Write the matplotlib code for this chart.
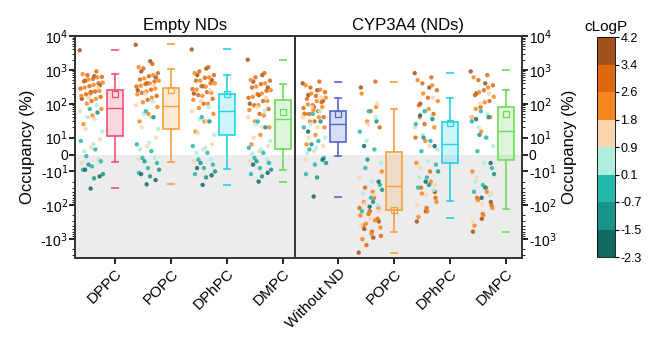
import numpy as np
import matplotlib
matplotlib.use('Agg')
import matplotlib.pyplot as plt
from matplotlib.colors import ListedColormap, BoundaryNorm, to_rgba
from matplotlib.ticker import FixedLocator, SymmetricalLogLocator, NullFormatter
from matplotlib.transforms import ScaledTranslation

plt.rcParams['font.family'] = ['Liberation Sans', 'DejaVu Sans']

# cLogP of each compound (same compound order in every group)
clogp = [4.0, 3.9, 3.7, 3.6, 3.5, 3.45,
         3.3, 3.2, 3.2, 3.1, 3.0, 3.0, 2.9, 2.8, 2.8, 2.7, 2.7, 2.65,
         2.5, 2.5, 2.4, 2.4, 2.3, 2.3, 2.2, 2.2, 2.1, 2.0, 2.0, 1.9, 1.9, 1.85,
         1.7, 1.6, 1.5, 1.4, 1.3, 1.2, 1.1, 1.0,
         0.8, 0.7, 0.5, 0.4, 0.3, 0.2,
         0.0, -0.1, -0.2, -0.3, -0.4, -0.5, -0.6,
         -0.9, -1.1, -1.2, -1.4,
         -1.7, -1.9, -2.2]

# occupancy (%) per compound, empty NDs
dppc_empty = [3800, 650, 480, 350, 220, 140,
              900, 700, 620, 540, 460, 400, 330, 280, 230, 190, 160, 120,
              750, 600, 520, 420, 360, 300, 240, 200, 170, 140, 100, 70, 45, 25,
              300, 150, 60, 35, 18, 9, 4, -5,
              90, 40, 15, 6, 2, -3,
              70, 8, 3, -1, -4, -7, -9,
              55, -6, -12, -16,
              -9, -14, -32]
popc_empty = [5500, 1800, 900, 600, 400, 250,
              1500, 1100, 800, 650, 520, 450, 380, 320, 260, 210, 170, 130,
              1200, 700, 560, 480, 400, 340, 280, 230, 190, 150, 110, 80, 50, 30,
              350, 200, 90, 40, 20, 10, 5, -3,
              120, 50, 18, 7, 3, -2,
              60, 6, 2, -2, -5, -8, -11,
              40, -4, -9, -14,
              -12, -18, -24]
dphpc_empty = [4000, 1100, 700, 500, 330, 200,
               1200, 900, 700, 580, 480, 400, 330, 270, 220, 180, 140, 100,
               800, 600, 480, 400, 320, 260, 210, 170, 130, 100, 75, 50, 30, 15,
               250, 120, 60, 30, 14, 6, 3, -4,
               80, 35, 12, 4, 1, -3,
               40, 5, 1, -3, -6, -8, -12,
               30, -5, -10, -15,
               -8, -13, -25]
dmpc_empty = [2000, 700, 450, 300, 180, 100,
              800, 600, 480, 380, 300, 240, 190, 150, 120, 90, 70, 50,
              500, 400, 320, 250, 200, 160, 120, 90, 65, 45, 30, 20, 12, 6,
              150, 80, 40, 20, 10, 5, 2, -4,
              60, 25, 8, 3, 0.5, -3,
              30, 4, 1, -2, -5, -8, -12,
              20, -4, -9, -14,
              -6, -11, -20]

# occupancy (%) per compound, CYP3A4
without_nd = [400, 250, 180, 120, 80, 50,
              450, 300, 220, 170, 140, 110, 90, 75, 60, 50, 40, 30,
              350, 260, 200, 150, 120, 95, 80, 65, 50, 40, 30, 20, 12, 6,
              150, 80, 40, 20, 10, 5, 2, -3,
              60, 25, 10, 4, 1, -4,
              50, 20, 8, 3, -2, -6, -12,
              30, 6, -5, -15,
              15, -3, -55]
popc_cyp = [-2500, -900, -500, -300, -150, 300,
            450, -1500, -800, -600, -400, -250, -180, -120, -60, -30, 20, 60,
            200, 80, 30, -10, -40, -80, -120, -160, -200, -280, -350, -450, -700, -1000,
            100, 25, -15, -50, -90, -150, -250, -400,
            40, 8, -5, -20, -45, -100,
            60, 15, 3, -8, -25, -60, -150,
            30, -3, -35, -80,
            5, -20, -110]
dphpc_cyp = [800, 300, 100, -40, -150, -300,
             600, 400, 250, 150, 90, 50, 25, 10, -10, -30, -60, -120,
             500, 350, 200, 120, 70, 40, 20, 8, -5, -20, -45, -80, -150, -220,
             150, 60, 20, 5, -8, -25, -50, -100,
             40, 12, 3, -4, -15, -35,
             60, 25, 8, 2, -6, -15, -30,
             35, 10, -10, -25,
             45, 5, -20]
dmpc_cyp = [900, 400, 200, -80, -250, -600,
            700, 500, 350, 250, 180, 120, 80, 40, -30, -60, -100, -180,
            600, 300, 220, 160, 110, 70, 40, 15, -10, -40, -70, -120, -200, -400,
            200, 100, 40, 10, -15, -45, -90, -300,
            50, 20, 5, -5, -20, -50,
            60, 30, 10, 2, -8, -25, -40,
            40, 12, -12, -30,
            35, -5, -60]

empty_labels = ['DPPC', 'POPC', 'DPhPC', 'DMPC']
cyp_labels = ['Without ND', 'POPC', 'DPhPC', 'DMPC']

# box statistics
empty_q1 = [11.5, 18, 12, 3.2]
empty_med = [77, 87, 60, 35]
empty_q3 = [260, 290, 200, 125]
empty_whislo = [-4.7, -4.3, -8.5, -9]
empty_whishi = [740, 1070, 700, 380]
empty_mean = [200, 250, 190, 56]
empty_min = [-31, -24, -25, -20]
empty_max = [3850, 6000, 4000, 2000]

cyp_q1 = [7.6, -140, -5, -3.4]
cyp_med = [25, -27, 6.2, 16]
cyp_q3 = [63, 1.6, 28, 78]
cyp_whislo = [-1, -630, -77, -125]
cyp_whishi = [145, 70, 145, 250]
cyp_mean = [49, -140, 27, 50]
cyp_min = [-55, -2500, -235, -630]
cyp_max = [450, 450, 810, 1000]

empty_colors = ['#f0506e', '#f7a040', '#22d3e6', '#6cdc58']
cyp_colors = ['#5566cc', '#f7a040', '#22d3e6', '#6cdc58']

bounds = [-2.3, -1.5, -0.7, 0.1, 0.9, 1.8, 2.6, 3.4, 4.2]
cmap = ListedColormap(['#106a62', '#17958a', '#24b8ab', '#aeeedf',
                       '#fcd4b0', '#f8861e', '#dd6810', '#a4501a'])
norm = BoundaryNorm(bounds, cmap.N)

YMIN, YMAX = -3600, 10000


def draw_panel(ax, series, colors, labels, q1, med, q3, wlo, whi, mean, vmin, vmax, xlim):
    ax.set_yscale('symlog', linthresh=10, linscale=0.45)
    ax.set_ylim(YMIN, YMAX)
    ax.set_xlim(*xlim)
    ax.axhspan(YMIN, 0, color='#ececec', zorder=0, lw=0)

    sc = None
    n = len(clogp)
    offs = ((np.arange(n) * 0.6180339) % 1 - 0.5) * 0.42
    for i, vals in enumerate(series):
        x = i + 1 - 0.42 + offs
        sc = ax.scatter(x, vals, c=clogp, cmap=cmap, norm=norm, s=10,
                        alpha=0.85, linewidths=0, zorder=3)

    for i in range(len(series)):
        c = colors[i]
        st = dict(q1=q1[i], med=med[i], q3=q3[i], whislo=wlo[i],
                  whishi=whi[i], mean=mean[i], fliers=[vmin[i], vmax[i]])
        ax.bxp([st], positions=[i + 1], widths=0.27, capwidths=0.12,
               patch_artist=True, showmeans=True,
               boxprops=dict(facecolor=to_rgba(c, 0.22), edgecolor=c, lw=1.2),
               whiskerprops=dict(color=c, lw=1.2),
               capprops=dict(color=c, lw=1.2),
               medianprops=dict(color=c, lw=1.0),
               meanprops=dict(marker='s', markerfacecolor='none',
                              markeredgecolor=c, markersize=4, markeredgewidth=0.9),
               flierprops=dict(marker='_', markeredgecolor=c, markersize=6,
                               markeredgewidth=1.2))

    ax.set_xticks(range(1, len(labels) + 1))
    ax.set_xticklabels(labels, rotation=45, ha='right', rotation_mode='anchor',
                       fontsize=11)
    shift = ScaledTranslation(0.08, -0.03, ax.figure.dpi_scale_trans)
    for lbl in ax.get_xticklabels():
        lbl.set_transform(lbl.get_transform() + shift)
    yt = [-1000, -100, -10, 0, 10, 100, 1000, 10000]
    ytl = [r'-10$^3$', r'-10$^2$', r'-10$^1$', '0',
           r'10$^1$', r'10$^2$', r'10$^3$', r'10$^4$']
    ax.yaxis.set_major_locator(FixedLocator(yt))
    ax.set_yticklabels(ytl, fontsize=10)
    ax.yaxis.set_minor_locator(SymmetricalLogLocator(linthresh=10, base=10,
                                                     subs=np.arange(2, 10)))
    ax.yaxis.set_minor_formatter(NullFormatter())
    for sp in ax.spines.values():
        sp.set_linewidth(1.4)
        sp.set_color('#333333')
    ax.tick_params(axis='x', length=4, width=1.2, pad=2)
    ax.tick_params(axis='y', which='major', length=4, width=1.2, pad=1)
    ax.tick_params(axis='y', which='minor', length=2, width=0.6)
    ax.set_ylabel('Occupancy (%)', fontsize=12)
    return sc


fig = plt.figure(figsize=(6.52, 3.4), dpi=100)
ax1 = fig.add_axes([75 / 652, 82 / 340, 220 / 652, 222 / 340])
ax2 = fig.add_axes([295 / 652, 82 / 340, 227 / 652, 222 / 340])

draw_panel(ax1, [dppc_empty, popc_empty, dphpc_empty, dmpc_empty], empty_colors,
           empty_labels, empty_q1, empty_med, empty_q3, empty_whislo,
           empty_whishi, empty_mean, empty_min, empty_max, (0.286, 4.214))
sc = draw_panel(ax2, [without_nd, popc_cyp, dphpc_cyp, dmpc_cyp], cyp_colors,
                cyp_labels, cyp_q1, cyp_med, cyp_q3, cyp_whislo, cyp_whishi,
                cyp_mean, cyp_min, cyp_max, (0.232, 4.286))

ax1.set_title('Empty NDs', fontsize=12, pad=4)
ax2.set_title('CYP3A4 (NDs)', fontsize=12, pad=4)

ax2.yaxis.tick_right()
ax2.yaxis.set_label_position('right')
ax1.yaxis.set_ticks_position('left')

# colour bar
cax = fig.add_axes([597 / 652, 83 / 340, 18 / 652, 220 / 340])
cb = fig.colorbar(sc, cax=cax, ticks=bounds)
cb.solids.set_alpha(1)
cb.ax.set_yticklabels(['-2.3', '-1.5', '-0.7', '0.1', '0.9', '1.8', '2.6', '3.4', '4.2'])
cb.ax.tick_params(labelsize=9, length=3, width=0.8, pad=1)
cb.outline.set_linewidth(0.6)
cb.ax.set_title('cLogP', fontsize=11, pad=4)

fig.savefig('out.png', dpi=100, facecolor='white')
